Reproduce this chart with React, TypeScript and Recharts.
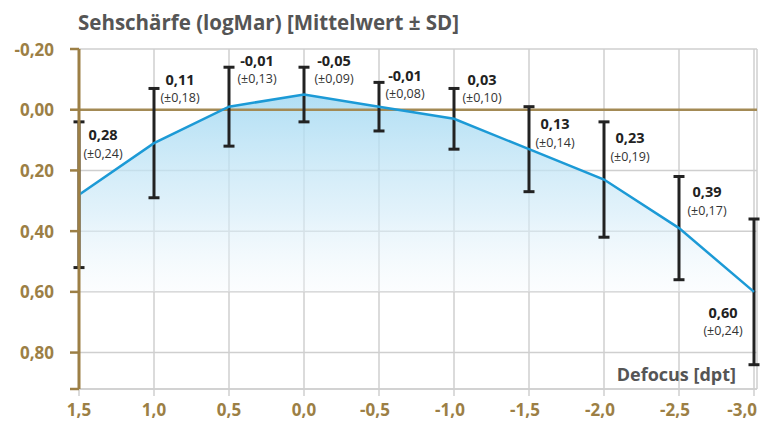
import { ComposedChart, Area, Line, XAxis, YAxis, CartesianGrid, ReferenceLine, ErrorBar, LabelList } from 'recharts'

// Defocus in dpt, mean logMAR and its SD
const defocus = [1.5, 1.0, 0.5, 0.0, -0.5, -1.0, -1.5, -2.0, -2.5, -3.0]
const meanLogMar = [0.28, 0.11, -0.01, -0.05, -0.01, 0.03, 0.13, 0.23, 0.39, 0.6]
const sdLogMar = [0.24, 0.18, 0.13, 0.09, 0.08, 0.1, 0.14, 0.19, 0.17, 0.24]
const xTicks = [1.5, 1.0, 0.5, 0.0, -0.5, -1.0, -1.5, -2.0, -2.5, -3.0]
const yTicks = [-0.2, 0, 0.2, 0.4, 0.6, 0.8, 0.92]
const yMin = -0.2
const yMax = 0.92
const areaBase = 0.6

// label placement relative to the top of each error bar (px)
const labelDx = [24, 26, 28, 30, 26, 28, 26, 26, 28, -31]
const labelDy = [13, -9, -7, -7, -7, -9, 17, 16, 15, 93]

const rows = defocus.map((d, i) => ({
    d,
    mean: meanLogMar[i],
    sd: sdLogMar[i],
    top: meanLogMar[i] - sdLogMar[i],
}))

const gold = '#9c7f45'
const gray = '#555555'
const font = '"Open Sans", "Noto Sans", sans-serif'

function YTick(props: any) {
    const { x, y, payload } = props
    if (payload.value === yMax) return null
    return (
        <text x={x - 14} y={y} textAnchor="end" dominantBaseline="central" fill={gold} fontSize={17} fontWeight={700} fontFamily={font}>
            {payload.value.toFixed(2).replace('.', ',')}
        </text>
    )
}

function XTick(props: any) {
    const { x, y, payload, index } = props
    const last = index === xTicks.length - 1
    const neg = payload.value < 0
    return (
        <text
            x={last ? x + 3 : neg ? x - 4 : x}
            y={y + 11}
            textAnchor={last ? 'end' : 'middle'}
            dominantBaseline="central"
            fill={gold}
            fontSize={17}
            fontWeight={700}
            fontFamily={font}
        >
            {payload.value.toFixed(1).replace('.', ',')}
        </text>
    )
}

function ValueLabel(props: any) {
    const { x, y, index } = props
    const cx = x + labelDx[index]
    const cy = y + labelDy[index]
    return (
        <g fontFamily={font}>
            <text x={cx} y={cy} textAnchor="middle" dominantBaseline="central" fill="#222" fontSize={14.5} fontWeight={700}>
                {meanLogMar[index].toFixed(2).replace('.', ',')}
            </text>
            <text x={cx} y={cy + 18.5} textAnchor="middle" dominantBaseline="central" fill="#333" fontSize={12.5}>
                (±{sdLogMar[index].toFixed(2).replace('.', ',')})
            </text>
        </g>
    )
}

export default function App() {
    return (
        <div style={{ position: 'absolute', left: 0, top: 0, width: 766, height: 421, background: '#fff' }}>
            <ComposedChart width={766} height={421} data={rows} margin={{ top: 49, right: 9, left: 0, bottom: 0 }}>
                <defs>
                    <linearGradient id="fillBlue" x1="0" y1="0" x2="0" y2="1">
                        <stop offset="0%" stopColor="#a3d9f2" stopOpacity={1} />
                        <stop offset="60%" stopColor="#d2ebf8" stopOpacity={0.75} />
                        <stop offset="100%" stopColor="#f6fafd" stopOpacity={0.4} />
                    </linearGradient>
                </defs>
                <CartesianGrid stroke="#cfcfcf" strokeWidth={1.5} />
                <XAxis
                    dataKey="d"
                    type="number"
                    domain={[-3, 1.5]}
                    ticks={xTicks}
                    reversed
                    height={32}
                    padding={{ right: 3 }}
                    axisLine={{ stroke: '#cfcfcf', strokeWidth: 1.5 }}
                    tickLine={{ stroke: '#cfcfcf', strokeWidth: 1.5 }}
                    tickSize={7}
                    tick={<XTick />}
                    interval={0}
                />
                <YAxis
                    type="number"
                    domain={[yMin, yMax]}
                    ticks={yTicks}
                    reversed
                    width={79}
                    axisLine={{ stroke: gold, strokeWidth: 3 }}
                    tickLine={{ stroke: gold, strokeWidth: 2.5 }}
                    tickSize={9}
                    tick={<YTick />}
                    interval={0}
                />
                <Area
                    dataKey="mean"
                    type="linear"
                    baseValue={areaBase}
                    stroke="none"
                    fill="url(#fillBlue)"
                    fillOpacity={0.85}
                    isAnimationActive={false}
                />
                <ReferenceLine y={0} stroke="#a38a55" strokeWidth={2.5} />
                <Line dataKey="mean" type="linear" stroke="#1c9ad6" strokeWidth={2.5} dot={false} isAnimationActive={false}>
                    <ErrorBar dataKey="sd" direction="y" width={5.5} stroke="#222" strokeWidth={3} />
                </Line>
                <Line dataKey="top" stroke="none" dot={false} activeDot={false} isAnimationActive={false}>
                    <LabelList dataKey="top" content={<ValueLabel />} />
                </Line>
            </ComposedChart>
            <div
                style={{
                    position: 'absolute',
                    left: 78,
                    top: 8,
                    fontFamily: font,
                    fontWeight: 700,
                    fontSize: 20.5,
                    color: gray,
                    whiteSpace: 'nowrap',
                }}
            >
                Sehschärfe (logMar) [Mittelwert ± SD]
            </div>
            <div
                style={{
                    position: 'absolute',
                    right: 30,
                    top: 362,
                    fontFamily: font,
                    fontWeight: 700,
                    fontSize: 18,
                    color: gray,
                    whiteSpace: 'nowrap',
                }}
            >
                Defocus [dpt]
            </div>
        </div>
    )
}
